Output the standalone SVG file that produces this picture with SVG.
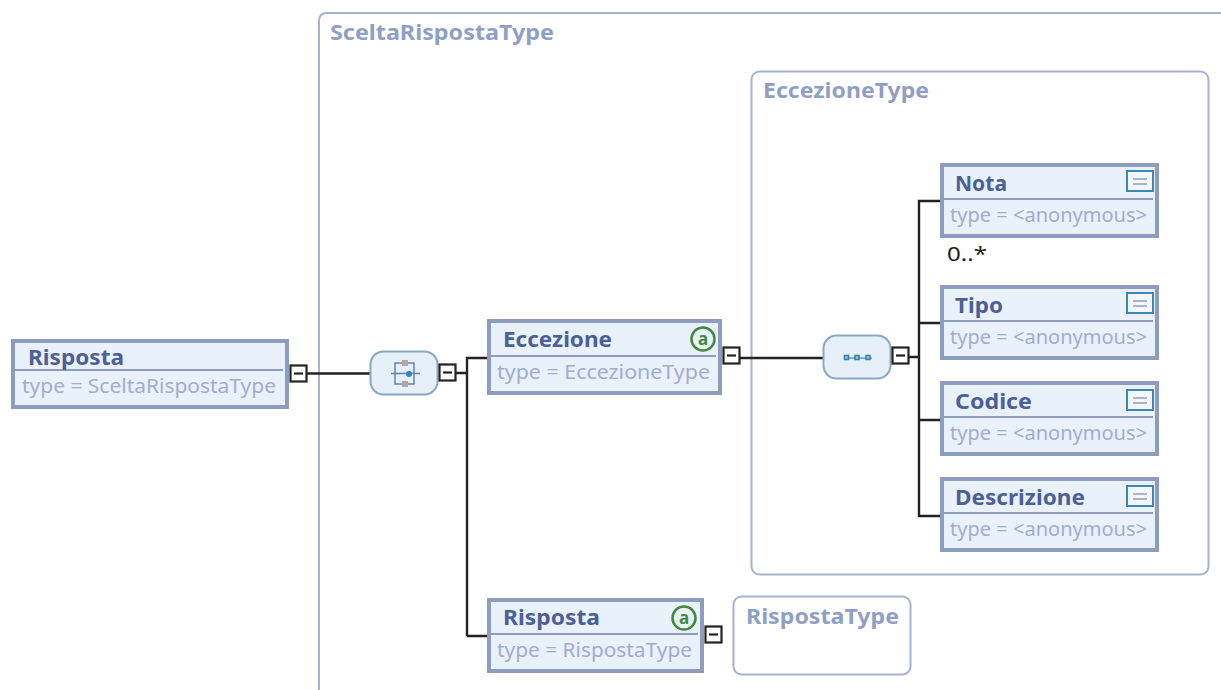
<svg xmlns="http://www.w3.org/2000/svg" width="1221" height="690" viewBox="0 0 1221 690">
<style>
text{font-family:"Noto Sans","Liberation Sans",sans-serif}
.group{fill:#fff;stroke:#a5b2d2;stroke-width:2}
.gt{font-size:21px;font-weight:700;fill:#8f9fc5}
.box{fill:#e9f1fb;stroke:#8e9cc0;stroke-width:4}
.div{stroke:#8e9cc0;stroke-width:2;fill:none}
.nt{font-size:21px;font-weight:700;fill:#4d5f97}
.ty{font-size:20px;fill:#a3adcf}
.exp{fill:#fff;stroke:#222;stroke-width:2.2}
.minus{stroke:#222;stroke-width:2.2;fill:none}
.con{stroke:#222;stroke-width:2.4;fill:none}
.cmp{fill:#e6f0f8;stroke:#8aa8c4;stroke-width:2}
.at{fill:#e9f1fb;stroke:#3f8a3f;stroke-width:2.5}
.att{font-size:17px;font-weight:700;fill:#3f8a3f;text-anchor:middle}
.doc{fill:#f3f8fd;stroke:#3f86b5;stroke-width:2}
.docl{stroke:#8e9cc0;stroke-width:1.5}
.occ{font-size:20px;fill:#222}
</style>
<g id="group-SceltaRispostaType">
<path class="group" d="M319 692V21Q319 13 327 13H1223"/>
<text class="gt" x="330" y="40" textLength="224" lengthAdjust="spacingAndGlyphs">SceltaRispostaType</text>
</g>
<g id="group-EccezioneType">
<rect class="group" x="751.500" y="71.500" width="457" height="503" rx="8"/>
<text class="gt" x="763" y="98" textLength="166" lengthAdjust="spacingAndGlyphs">EccezioneType</text>
</g>
<g id="group-RispostaType">
<rect class="group" x="733.500" y="596.500" width="177" height="78" rx="8"/>
<text class="gt" x="746" y="624" textLength="153" lengthAdjust="spacingAndGlyphs">RispostaType</text>
</g>
<g id="connectors">
<path class="con" d="M307 373.500H370"/>
<path class="con" d="M455 373H467M467 636V358H487M467 636H487"/>
<path class="con" d="M740 358H824"/>
<path class="con" d="M908 357H919M940 201H919V516H940M919 323H940M919 420H940"/>
</g>
<g id="node-Risposta-root">
<rect class="box" x="13" y="341" width="274" height="66"/>
<path class="div" d="M15 370H283"/>
<text class="nt" x="28" y="365" textLength="96" lengthAdjust="spacingAndGlyphs">Risposta</text>
<text class="ty" x="22" y="393" textLength="254" lengthAdjust="spacingAndGlyphs">type = SceltaRispostaType</text>
<rect class="exp" x="290.500" y="365.500" width="16" height="16"/>
<path class="minus" d="M294 373.500H303"/>
</g>
<g id="node-choice">
<rect class="cmp" x="370.500" y="351.500" width="67" height="43" rx="13"/>
<path d="M391 373.500H420M404 363H395V384H404M404 363H414V384H404" fill="none" stroke="#5f86b0" stroke-width="1.500"/>
<rect x="402" y="360" width="6" height="6" fill="#b5a5a5"/>
<rect x="402" y="381" width="6" height="6" fill="#b5a5a5"/>
<circle cx="409" cy="374" r="3" fill="#2f86b8"/>
<rect class="exp" x="439.500" y="364.500" width="16" height="16"/>
<path class="minus" d="M443 372.500H452"/>
</g>
<g id="node-Eccezione">
<rect class="box" x="489" y="321" width="231" height="72"/>
<path class="div" d="M491 356H716"/>
<text class="nt" x="503" y="347" textLength="109" lengthAdjust="spacingAndGlyphs">Eccezione</text>
<text class="ty" x="497" y="379" textLength="213" lengthAdjust="spacingAndGlyphs">type = EccezioneType</text>
<circle class="at" cx="703" cy="339" r="11.500"/>
<text class="att" x="703" y="345">a</text>
<rect class="exp" x="723.500" y="347.500" width="16" height="16"/>
<path class="minus" d="M727 355.500H736"/>
</g>
<g id="node-sequence">
<rect class="cmp" x="823.500" y="335.500" width="67" height="43" rx="13"/>
<path d="M846 358H872" stroke="#6f95b8" stroke-width="1.500"/>
<g fill="#9fc4de" stroke="#2f7fb0" stroke-width="1.500">
<rect x="844.500" y="355.500" width="4" height="4"/>
<rect x="855" y="355.500" width="4" height="4"/>
<rect x="866" y="355.500" width="4" height="4"/>
</g>
<rect class="exp" x="892.500" y="347.500" width="16" height="16"/>
<path class="minus" d="M896 355.500H905"/>
</g>
<g id="node-Nota">
<rect class="box" x="942" y="165" width="215" height="71"/>
<path class="div" d="M944 199H1153"/>
<text class="nt" x="955" y="191" textLength="52" lengthAdjust="spacingAndGlyphs">Nota</text>
<text class="ty" x="950" y="222" textLength="197" lengthAdjust="spacingAndGlyphs">type = &lt;anonymous&gt;</text>
<rect class="doc" x="1127" y="171" width="26" height="20"/>
<path class="docl" d="M1133 179H1147M1133 184H1147"/>
<text class="occ" x="947" y="261" textLength="40" lengthAdjust="spacingAndGlyphs">0..*</text>
</g>
<g id="node-Tipo">
<rect class="box" x="942" y="287" width="215" height="71"/>
<path class="div" d="M944 321H1153"/>
<text class="nt" x="955" y="313" textLength="48" lengthAdjust="spacingAndGlyphs">Tipo</text>
<text class="ty" x="950" y="344" textLength="197" lengthAdjust="spacingAndGlyphs">type = &lt;anonymous&gt;</text>
<rect class="doc" x="1127" y="293" width="26" height="20"/>
<path class="docl" d="M1133 301H1147M1133 306H1147"/>
</g>
<g id="node-Codice">
<rect class="box" x="942" y="383" width="215" height="71"/>
<path class="div" d="M944 417H1153"/>
<text class="nt" x="955" y="409" textLength="77" lengthAdjust="spacingAndGlyphs">Codice</text>
<text class="ty" x="950" y="440" textLength="197" lengthAdjust="spacingAndGlyphs">type = &lt;anonymous&gt;</text>
<rect class="doc" x="1127" y="390" width="26" height="20"/>
<path class="docl" d="M1133 398H1147M1133 403H1147"/>
</g>
<g id="node-Descrizione">
<rect class="box" x="942" y="479" width="215" height="71"/>
<path class="div" d="M944 513H1153"/>
<text class="nt" x="955" y="505" textLength="130" lengthAdjust="spacingAndGlyphs">Descrizione</text>
<text class="ty" x="950" y="536" textLength="197" lengthAdjust="spacingAndGlyphs">type = &lt;anonymous&gt;</text>
<rect class="doc" x="1127" y="486" width="26" height="20"/>
<path class="docl" d="M1133 494H1147M1133 499H1147"/>
</g>
<g id="node-Risposta">
<rect class="box" x="489" y="600" width="213" height="71"/>
<path class="div" d="M491 634H698"/>
<text class="nt" x="503" y="625" textLength="97" lengthAdjust="spacingAndGlyphs">Risposta</text>
<text class="ty" x="497" y="657" textLength="195" lengthAdjust="spacingAndGlyphs">type = RispostaType</text>
<circle class="at" cx="684" cy="618" r="11.500"/>
<text class="att" x="684" y="624">a</text>
<rect class="exp" x="705.500" y="626.500" width="16" height="16"/>
<path class="minus" d="M709 634.500H718"/>
</g>
</svg>
